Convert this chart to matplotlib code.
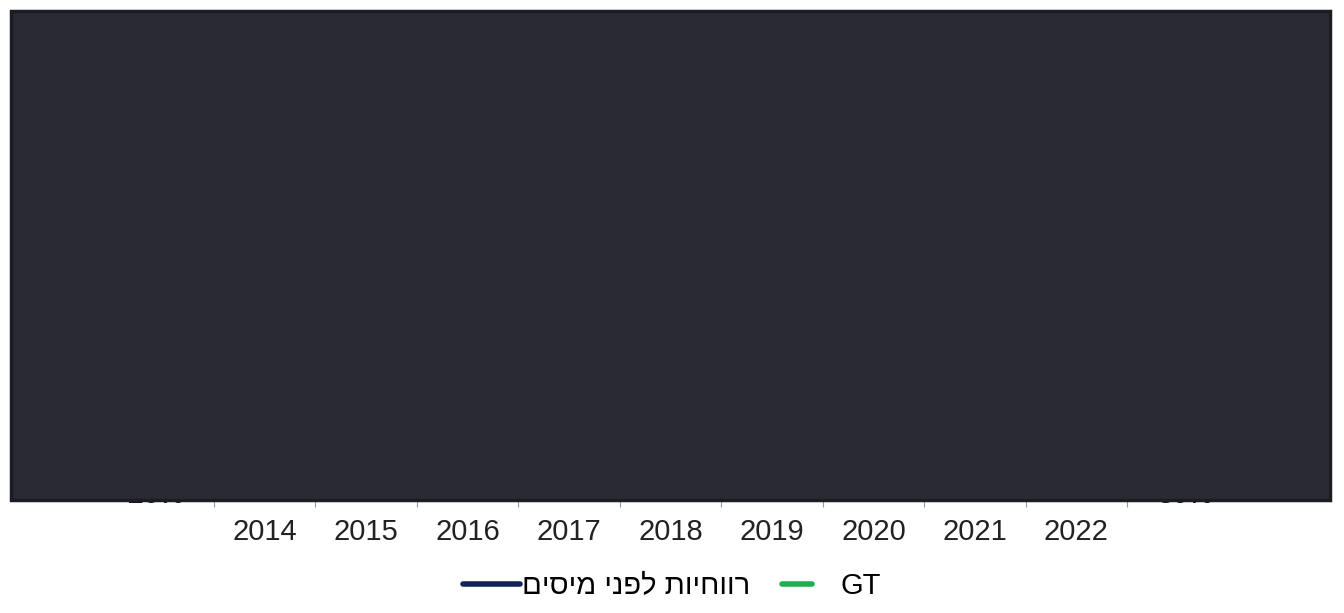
import matplotlib
matplotlib.use("Agg")
import matplotlib.pyplot as plt
from matplotlib.patches import Rectangle
from matplotlib.lines import Line2D
from matplotlib.legend_handler import HandlerLine2D
from matplotlib.ticker import FuncFormatter, FixedLocator

plt.rcParams['font.family'] = ['Liberation Sans', 'DejaVu Sans']

# ---- data (series lie under the dark overlay; values estimated) ----
years = ['2014', '2015', '2016', '2017', '2018', '2019', '2020', '2021', '2022']
pretax_pct = [28, 30, 27, 31, 33, 29, 25, 34, 36]
gt_pct = [62, 64, 61, 66, 68, 65, 60, 70, 72]
left_ticks = [20, 30, 40]
right_ticks = [50, 65, 80]
label_pretax = 'רווחיות לפני מיסים'
label_gt = 'GT'

W, H = 1344, 613
fig = plt.figure(figsize=(W / 100, H / 100), dpi=100)
fig.patch.set_facecolor('white')

ax_l = 214 / W
ax_r = 1127 / W
ax_b = (H - 499) / H
ax_t = (H - 40) / H
ax = fig.add_axes([ax_l, ax_b, ax_r - ax_l, ax_t - ax_b])
ax2 = ax.twinx()

x = list(range(len(years)))
navy = '#0f2358'
green = '#1fad52'
l1, = ax.plot(x, pretax_pct, color=navy, lw=3, label=label_pretax)
l2, = ax2.plot(x, gt_pct, color=green, lw=3, label=label_gt)

ax.set_xlim(-0.5, len(years) - 0.5)
ax.set_ylim(19.72, 40)
ax2.set_ylim(49.58, 80)

for a in (ax, ax2):
    for s in a.spines.values():
        s.set_visible(False)

ax.set_xticks(x)
ax.set_xticklabels(years, fontsize=21, color='#222222')
ax.tick_params(axis='x', which='major', length=0, pad=14)
ax.xaxis.set_minor_locator(FixedLocator([i - 0.5 for i in range(len(years) + 1)]))
ax.tick_params(axis='x', which='minor', length=6, width=0.8, color='#999999')

ax.yaxis.set_major_locator(FixedLocator(left_ticks))
ax2.yaxis.set_major_locator(FixedLocator(right_ticks))
fmt = FuncFormatter(lambda v, p: f'{v:.0f}%')
ax.yaxis.set_major_formatter(fmt)
ax2.yaxis.set_major_formatter(fmt)
ax.tick_params(axis='y', length=0, pad=22, labelsize=20)
ax2.tick_params(axis='y', length=0, pad=22, labelsize=20)
for t in ax.get_yticklabels() + ax2.get_yticklabels():
    t.set_fontweight('bold')
    t.set_color('#111111')


class PartialLine(HandlerLine2D):
    def __init__(self, f0=0.0, f1=1.0, **kw):
        super().__init__(**kw)
        self.f0, self.f1 = f0, f1

    def create_artists(self, legend, orig_handle, xdescent, ydescent,
                       width, height, fontsize, trans):
        x0 = -xdescent + width * self.f0
        x1 = -xdescent + width * self.f1
        y = height / 2 - ydescent
        ln = Line2D([x0, x1], [y, y])
        self.update_prop(ln, orig_handle, legend)
        ln.set_transform(trans)
        return [ln]


leg = fig.legend([l1, l2], [label_pretax[::-1], label_gt],
                 loc='center', bbox_to_anchor=(672 / W, (H - 586) / H),
                 ncol=2, frameon=False, fontsize=21,
                 handlelength=1.95, handletextpad=0.05, columnspacing=1.1,
                 handler_map={l1: PartialLine(0, 1), l2: PartialLine(0, 0.52)})
for ln in leg.get_lines():
    ln.set_linewidth(4.0)
    ln.set_solid_capstyle('round')

# dark overlay box covering plot area
box = Rectangle((11 / W, (H - 500) / H), (1330 - 11) / W, (500 - 11) / H,
                transform=fig.transFigure, facecolor='#2a2a35',
                edgecolor='#1c1c23', linewidth=2.5, zorder=20)
fig.patches.append(box)

fig.savefig('out.png', dpi=100)
